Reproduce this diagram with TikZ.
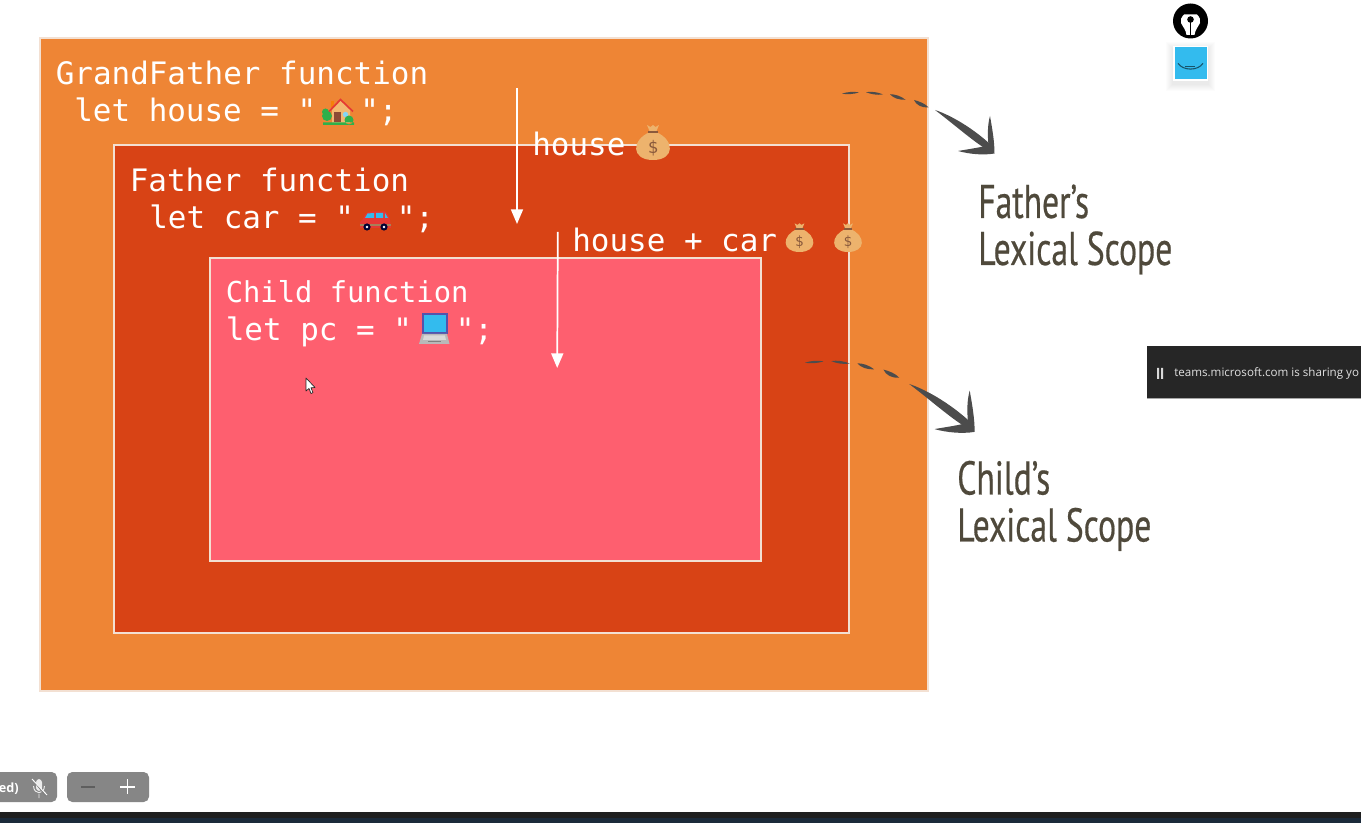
\documentclass[tikz,border=0pt]{standalone}
\usepackage{fontspec}
\usetikzlibrary{arrows.meta}
\setmainfont{Open Sans}
\newfontfamily\codefont{DejaVu Sans Mono}
\newfontfamily\headfont[FakeStretch=0.71,FakeBold=0.35]{PT Sans}
\newfontfamily\barfont{Open Sans}
\definecolor{outerc}{HTML}{EE8535}
\definecolor{midc}{HTML}{D84315}
\definecolor{innerc}{HTML}{FE5F6F}
\definecolor{edgec}{HTML}{F3E0D2}
\definecolor{sketchc}{HTML}{4C4C4C}
\definecolor{headc}{HTML}{4F493B}
\definecolor{bagc}{HTML}{EDB36D}
\definecolor{bagd}{HTML}{8A5A3C}
\definecolor{skyc}{HTML}{33BBEE}
\definecolor{leafc}{HTML}{2FB04A}
\definecolor{roofc}{HTML}{E53935}
\definecolor{wallc}{HTML}{F3B872}
\definecolor{doorc}{HTML}{8D4B36}
\definecolor{navyc}{HTML}{1B2A3A}
\tikzset{
  x=0.75pt,y=-0.75pt,
  scopebox/.style={draw=edgec,line width=1.2pt,inner sep=0,anchor=north west},
  code/.style={font=\codefont\fontsize{23.2}{28}\selectfont,text=white,anchor=base west,inner sep=0},
  codesmall/.style={code,font=\codefont\fontsize{21.6}{26}\selectfont},
  head/.style={font=\headfont\fontsize{35.5}{42}\selectfont,text=headc,anchor=base west,inner sep=0},
  flow/.style={draw=white,line width=1.3pt,-{Triangle[length=11pt,width=9pt,fill=white]}},
  pics/moneybag/.style={code={
    \fill[bagc] (-3,-14) .. controls (-22,-6) and (-22,14) .. (0,14) .. controls (22,14) and (22,-6) .. (3,-14) -- cycle;
    \fill[bagc] (-6,-21) -- (-2.5,-19) -- (0,-21) -- (2.5,-19) -- (6,-21) -- (3.5,-15) -- (-3.5,-15) -- cycle;
    \fill[bagd] (-5,-15) rectangle (5,-13);
    \node[transform shape,inner sep=0,text=bagd,font=\codefont\fontsize{13}{13}\selectfont] (-bagsign) at (0,2) {\$};
  }},
  pics/sketcharrow/.style={code={
    \fill[sketchc] (-58,-40) .. controls (-40,-34) and (-18,-20) .. (-2,-5) -- (0,3) .. controls (-16,-5) and (-38,-25) .. cycle;
    \fill[sketchc] (-3,-34) .. controls (-0.5,-20) and (1.5,-8) .. (1.5,3.5) .. controls (-10,5.5) and (-24,4) .. (-35,1) .. controls (-24,-1) and (-12,-2.5) .. (-4.5,-5) .. controls (-5.5,-15) and (-5.5,-25) .. cycle;
  }},
  pics/sketchdash/.style={code={
    \fill[sketchc] (0,0.7) .. controls (5,-1.2) and (12,-1.6) .. (17,-0.6) .. controls (12,1.2) and (5,1.6) .. cycle;
    \fill[sketchc] (24,-0.8) .. controls (29,-1.8) and (36,-0.8) .. (41,1.4) .. controls (35,2.4) and (29,1.2) .. cycle;
    \fill[sketchc] (48,1.2) .. controls (53,1.2) and (59,3) .. (63.5,6.8) .. controls (57,7) and (51,5) .. cycle;
    \fill[sketchc] (72,7) .. controls (77,8.2) and (83,10.5) .. (86.5,14.4) .. controls (80,15) and (74,12) .. cycle;
  }}
}
\begin{document}
\begin{tikzpicture}
\useasboundingbox (0,0) rectangle (1361,823);
\fill[white] (0,0) rectangle (1361,823);

% nested scope boxes
\node[scopebox,fill=outerc,minimum width=888*0.75pt,minimum height=653*0.75pt] (grand) at (39,37) {};
\node[scopebox,fill=midc,minimum width=735*0.75pt,minimum height=488*0.75pt] (father) at (113,144) {};
\node[scopebox,fill=innerc,minimum width=551*0.75pt,minimum height=303*0.75pt] (child) at (209,257) {};

% code text
\node[code] (g1) at (55.5,84.5) {GrandFather function};
\node[code] (g2) at (74,121.5) {let house = "};
\node[code] (g3) at (360,121.5) {";};
\node[code] (f1) at (129.5,191.5) {Father function};
\node[code] (f2) at (149,228.5) {let car = "};
\node[code] (f3) at (396.5,228.5) {";};
\node[codesmall] (c1) at (225.5,303) {Child function};
\node[code] (c2) at (225.5,340.5) {let pc = "};
\node[code] (c3) at (455.5,340.5) {";};
\node[code] (h1) at (532,155.5) {house};
\node[code] (h2) at (572,251.5) {house + car};

% house emoji
\fill[leafc] (327,116) circle (5) (325.5,112) circle (3.5);
\fill[orange!85!brown] (331,101) rectangle (334,107);
\fill[wallc] (332,110) -- (340.5,101) -- (350,110) -- (350,123) -- (332,123) -- cycle;
\draw[roofc,line width=1.2pt] (329,111.5) -- (340.5,99.5) -- (353,111.5);
\fill[doorc] (334,112) rectangle (341,122);
\fill[skyc!60!white] (345.5,114.5) circle (2.7);
\fill[leafc] (323,122.5) rectangle (354,125) (349,120) circle (4.5);

% car emoji
\fill[roofc] (363,219) .. controls (365,213) and (368,211.5) .. (372,211.5) -- (385,211.5) .. controls (387,212) and (389,217) .. (390,220) -- (391,228) -- (360,228) -- (360,222) -- cycle;
\fill[skyc] (367.5,213.5) -- (374,213) -- (374,218) -- (365,218) -- cycle (376,213) rectangle (383,218) (385,213) -- (388,218) -- (385,218) -- cycle;
\fill[brown!60!gray] (360,224) rectangle (391,226);
\fill[black!80!blue] (367,227) circle (3.6) (384,227) circle (3.6);
\fill[white] (367,227) circle (1.4) (384,227) circle (1.4);

% laptop emoji
\fill[blue!35!gray] (421.5,313) rectangle (447.5,334);
\fill[skyc] (423.5,315) rectangle (445.5,332);
\fill[gray!55] (422,334) -- (447,334) -- (449.5,344) -- (419,344) -- cycle;
\fill[gray!30] (424,335.5) -- (445,335.5) -- (446,340) -- (423,340) -- cycle;
\fill[gray] (428,341) rectangle (441,342.2);

% money bags
\pic (bag1) at (653,146) {moneybag};
\pic[scale=0.82] (bag2) at (799.5,240.5) {moneybag};
\pic[scale=0.82] (bag3) at (848,240.5) {moneybag};

% flow arrows
\coordinate (a1s) at (517,88);
\coordinate (a1e) at (517,224);
\coordinate (a2s) at (557.8,232);
\coordinate (a2e) at (557.2,368);
\draw[flow] (a1s) -- (a1e);
\draw[flow] (a2s) -- (a2e);

% mouse cursor
\draw[black!85,fill=white,line width=0.5pt,line join=round] (306,378) -- (306,391) -- (309,388.5) -- (311,393.5) -- (313,392.6) -- (311,387.8) -- (315,387.5) -- cycle;

% sketch arrows and labels
\pic (d1) at (842,93) {sketchdash};
\pic (s1) at (993,150) {sketcharrow};
\pic[scale=1.09] (d2) at (805,362) {sketchdash};
\pic[scale=1.1] (s2) at (973,428) {sketcharrow};
\node[head] (l1) at (978,218) {Father’s};
\node[head] (l2) at (978,265) {Lexical Scope};
\node[head] (l3) at (957,494.5) {Child’s};
\node[head] (l4) at (957,541.5) {Lexical Scope};

% pen badge
\fill[black] (1190.5,21) circle (17.5);
\fill[white] (1184,14.5) -- (1197,14.5) .. controls (1199.5,17) and (1201,20) .. (1200,23) .. controls (1198,27) and (1195,30) .. (1194.5,35) -- (1186.5,35) .. controls (1186,30) and (1183,27) .. (1181,23) .. controls (1180,20) and (1181.5,17) .. cycle;
\fill[black] (1190.5,19.5) circle (3.3);
\draw[black,line width=0.8pt] (1190.5,20) -- (1190.5,35);

% blue smile tile
\foreach \g in {1,2,...,7}{
  \fill[black,opacity=0.012] (1173-\g,46-\g+3) rectangle (1208+\g,81+\g+3);
}
\fill[white] (1173,46) rectangle (1208,81);
\fill[skyc] (1174.5,47.5) rectangle (1206.5,79.5);
\draw[black!55!skyc,line width=0.8pt] (1178,63.3) .. controls (1183,71) and (1198,71) .. (1203,63.3);
\draw[black!55!skyc,line width=0.5pt] (1185,66.7) -- (1195,66.7);

% screen-share bar and call controls
\begin{scope}
\clip (0,0) rectangle (1361,823);
\fill[black!85] (1147,346) rectangle (1370,398);
\draw[gray!70,line width=0.5pt] (1147,398) -- (1361,398);
\fill[white!85!black] (1157,368) rectangle (1159,379) (1161,368) rectangle (1163,379);
\node[anchor=base west,inner sep=0,text=white!88!black,font=\barfont\fontsize{8.7}{11}\selectfont] (share) at (1174,377) {teams.microsoft.com is sharing yo};
\fill[gray!95!white,rounded corners=4pt] (-12,772) rectangle (57,802);
\fill[gray!95!white,rounded corners=4pt] (67,772) rectangle (149,802);
\node[anchor=base east,inner sep=0,text=white,font=\barfont\bfseries\fontsize{9.5}{11}\selectfont] (status) at (19,792) {ed)};
\fill[white!85!gray,rounded corners=2.5pt] (36,779) rectangle (42,791);
\draw[white!85!gray,line width=0.7pt] (33.5,786) .. controls (34,795) and (44,795) .. (44.5,786) (39,794) -- (39,798);
\draw[gray,line width=1pt] (33,780) -- (46,796);
\draw[white,line width=0.7pt] (32,779) -- (47,795);
\draw[gray!60!black!90!white,line width=1pt] (81,787) -- (95,787);
\draw[white,line width=0.8pt] (120,787) -- (135,787) (127.5,779) -- (127.5,794);
\fill[black!88] (0,812) rectangle (1361,818);
\fill[navyc] (0,818) rectangle (1361,823);
\end{scope}
\end{tikzpicture}
\end{document}
